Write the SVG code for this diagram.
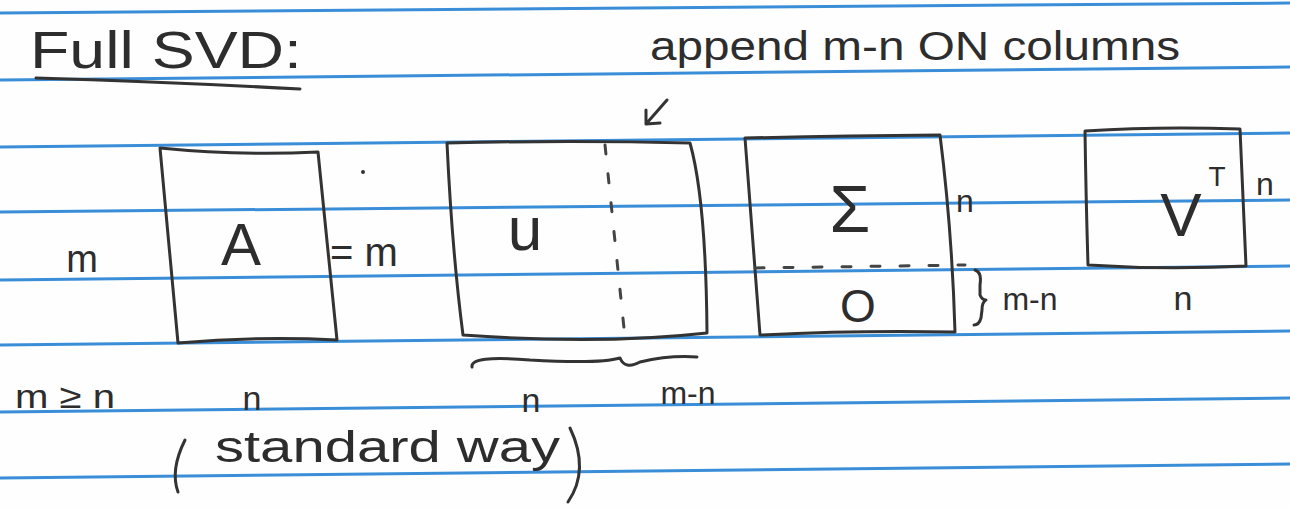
<svg xmlns="http://www.w3.org/2000/svg" width="1290" height="508" viewBox="0 0 1290 508">
<style>
.rule{stroke:#3a8ed8;stroke-width:3;fill:none}
.ink{stroke:#333;stroke-width:3;fill:none;stroke-linecap:round;stroke-linejoin:round}
.dash{stroke:#444;stroke-width:3;fill:none;stroke-linecap:round;stroke-dasharray:9 20}
.t{font-family:"Liberation Sans","DejaVu Sans",sans-serif;fill:#2d2d2d}
</style>
<rect width="1290" height="508" fill="#fefefe"/>
<g id="paper-lines">
<line class="rule" x1="0" y1="13" x2="1290" y2="3"/>
<line class="rule" x1="0" y1="80" x2="1290" y2="67"/>
<line class="rule" x1="0" y1="147" x2="1290" y2="133"/>
<line class="rule" x1="0" y1="212" x2="1290" y2="200"/>
<line class="rule" x1="0" y1="280" x2="1290" y2="266"/>
<line class="rule" x1="0" y1="345" x2="1290" y2="331"/>
<line class="rule" x1="0" y1="412" x2="1290" y2="398"/>
<line class="rule" x1="0" y1="478" x2="1290" y2="464"/>
</g>
<g id="title">
<text class="t" x="30" y="68" font-size="52" textLength="272" lengthAdjust="spacingAndGlyphs">Full SVD:</text>
<path class="ink" d="M36,78 Q170,82 300,89"/>
</g>
<g id="note">
<text class="t" x="650" y="60" font-size="40" textLength="530" lengthAdjust="spacingAndGlyphs">append m-n ON columns</text>
</g>
<g id="connectors">
<path class="ink" d="M667,100 L646,124 M646,124 L646,110 M646,124 L660,123"/>
</g>
<g id="A">
<path class="ink" d="M160,148 Q240,156 318,152 L337,340 Q258,336 178,343 Z"/>
<text class="t" x="241" y="265" font-size="60" text-anchor="middle">A</text>
</g>
<text class="t" x="82" y="272" font-size="38" text-anchor="middle">m</text>
<text class="t" x="330" y="266" font-size="40">= m</text>
<circle cx="363" cy="172" r="2" fill="#333"/>
<g id="U">
<path class="ink" d="M447,143 Q570,140 690,143 Q706,200 707,333 Q600,345 463,335 Q452,250 447,143 Z"/>
<path class="dash" d="M605,145 L625,338"/>
<text class="t" x="525" y="250" font-size="62" text-anchor="middle">u</text>
<path class="ink" d="M472,367 Q470,355 530,360 Q600,364 620,358 M620,358 Q625,370 640,362 Q670,355 697,357"/>
<text class="t" x="531" y="412" font-size="34" text-anchor="middle">n</text>
<text class="t" x="688" y="404" font-size="32" text-anchor="middle">m-n</text>
</g>
<g id="Sigma">
<path class="ink" d="M745,138 Q840,136 940,135 Q952,230 955,332 Q860,330 760,335 Q752,230 745,138 Z"/>
<path class="dash" d="M755,268 L965,265"/>
<text class="t" x="850" y="232" font-size="66" text-anchor="middle">Σ</text>
<text class="t" x="858" y="322" font-size="46" text-anchor="middle">O</text>
<text class="t" x="965" y="212" font-size="32" text-anchor="middle">n</text>
<path class="ink" d="M975,270 Q982,272 980,285 L980,295 Q982,300 986,300 Q982,302 982,310 L981,318 Q979,325 974,325"/>
<text class="t" x="1030" y="310" font-size="32" text-anchor="middle">m-n</text>
</g>
<g id="VT">
<path class="ink" d="M1085,131 Q1160,126 1240,129 Q1243,200 1246,266 Q1165,270 1088,265 Q1086,200 1085,131 Z"/>
<text class="t" x="1181" y="236" font-size="62" text-anchor="middle">V</text>
<text class="t" x="1217" y="186" font-size="28" text-anchor="middle">T</text>
<text class="t" x="1265" y="195" font-size="32" text-anchor="middle">n</text>
<text class="t" x="1183" y="310" font-size="34" text-anchor="middle">n</text>
</g>
<text class="t" x="15" y="408" font-size="34" textLength="100" lengthAdjust="spacingAndGlyphs">m ≥ n</text>
<text class="t" x="252" y="410" font-size="34" text-anchor="middle">n</text>
<g id="caption">
<path class="ink" d="M185,440 Q170,470 178,492"/>
<text class="t" x="215" y="462" font-size="44" textLength="345" lengthAdjust="spacingAndGlyphs">standard way</text>
<path class="ink" d="M570,428 Q590,470 568,502"/>
</g>
</svg>
